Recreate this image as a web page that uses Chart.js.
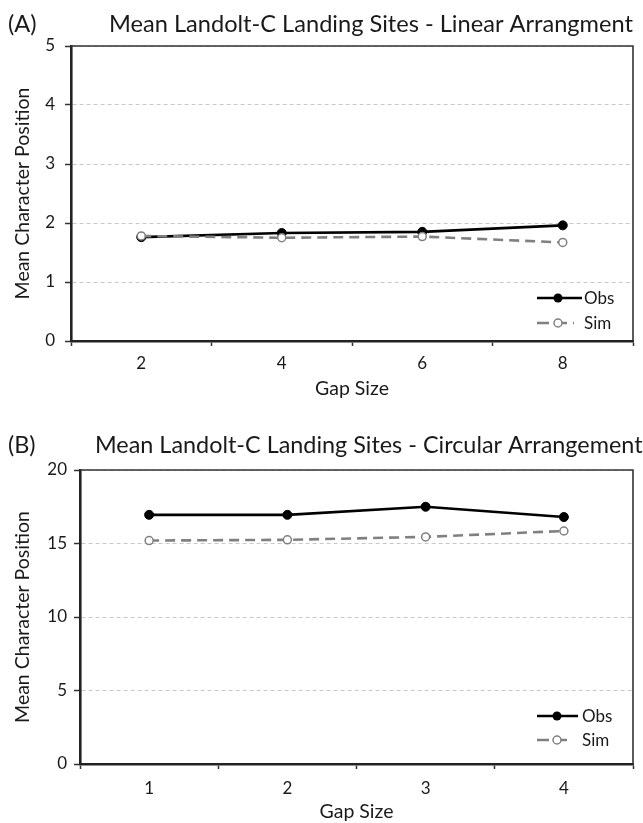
<!DOCTYPE html>
<html>
<head>
<meta charset="utf-8">
<script src="https://cdn.jsdelivr.net/npm/chart.js@4.4.1/dist/chart.umd.min.js"></script>
<style>
  html, body { margin: 0; padding: 0; background: #fff; }
  #wrap { position: relative; width: 643px; height: 823px; }
  canvas { position: absolute; left: 0; }
  #c1 { top: 0; }
  #c2 { top: 411px; }
</style>
</head>
<body>
<div id="wrap">
  <canvas id="c1" width="643" height="411"></canvas>
  <canvas id="c2" width="643" height="412"></canvas>
</div>
<script>
// Panel A: linear arrangement
const linearGaps = ['2', '4', '6', '8'];
const linearObs = [1.76, 1.83, 1.85, 1.96];
const linearSim = [1.78, 1.75, 1.77, 1.67];
const linearMax = 5;
const linearStep = 1;

// Panel B: circular arrangement
const circularGaps = ['1', '2', '3', '4'];
const circularObs = [16.95, 16.95, 17.5, 16.8];
const circularSim = [15.2, 15.25, 15.45, 15.85];
const circularMax = 20;
const circularStep = 5;

const seriesNames = ['Obs', 'Sim'];
const FONT = 'Lato, "Open Sans", sans-serif';
const INK = '#1a1a1a';
const SIM_GREY = '#808080';

// Titles, frame and the in-plot key for one panel
function panelDecor(p) {
  return {
    id: 'panelDecor',
    afterDraw(chart) {
      const { ctx, chartArea: a } = chart;
      ctx.save();
      // top and right edges of the plot frame
      ctx.strokeStyle = '#333';
      ctx.lineWidth = 1.6;
      ctx.setLineDash([]);
      ctx.beginPath();
      ctx.moveTo(a.left, a.top);
      ctx.lineTo(a.right, a.top);
      ctx.lineTo(a.right, a.bottom);
      ctx.stroke();

      // panel tag and heading
      ctx.fillStyle = INK;
      ctx.textBaseline = 'alphabetic';
      ctx.textAlign = 'left';
      ctx.font = p.titleSize + 'px ' + FONT;
      ctx.fillText(p.tag, 8, p.titleBase);
      ctx.fillText(p.title, p.titleX, p.titleBase);

      // key: Obs
      ctx.lineWidth = 2.6;
      ctx.strokeStyle = '#000';
      ctx.beginPath();
      ctx.moveTo(p.lx1, p.ly1);
      ctx.lineTo(p.lx2, p.ly1);
      ctx.stroke();
      ctx.fillStyle = '#000';
      ctx.beginPath();
      ctx.arc(p.mx, p.ly1, 4.5, 0, Math.PI * 2);
      ctx.fill();

      // key: Sim
      ctx.strokeStyle = SIM_GREY;
      ctx.setLineDash([12, 6]);
      ctx.beginPath();
      ctx.moveTo(p.lx1, p.ly2);
      ctx.lineTo(p.lx2 - 8, p.ly2);
      ctx.stroke();
      ctx.setLineDash([]);
      ctx.fillStyle = '#fff';
      ctx.lineWidth = 1.5;
      ctx.beginPath();
      ctx.arc(p.mx, p.ly2, 4, 0, Math.PI * 2);
      ctx.fill();
      ctx.stroke();

      ctx.fillStyle = INK;
      ctx.font = '17px ' + FONT;
      ctx.textBaseline = 'middle';
      ctx.fillText(seriesNames[0], p.tx, p.ly1 + 1);
      ctx.fillText(seriesNames[1], p.tx, p.ly2 + 1);
      ctx.restore();
    }
  };
}

function makePanel(canvasId, p) {
  return new Chart(document.getElementById(canvasId), {
    type: 'line',
    data: {
      labels: p.labels,
      datasets: [
        {
          label: seriesNames[1], data: p.sim, order: 0,
          borderColor: SIM_GREY, borderWidth: 2.6, borderDash: [10, 6],
          pointRadius: 4, pointBackgroundColor: '#fff', pointBorderColor: SIM_GREY,
          pointBorderWidth: 1.5, tension: 0, fill: false
        },
        {
          label: seriesNames[0], data: p.obs, order: 1,
          borderColor: '#000', borderWidth: 2.6,
          pointRadius: 4.5, pointBackgroundColor: '#000', pointBorderColor: '#000',
          pointBorderWidth: 1, tension: 0, fill: false
        }
      ]
    },
    options: {
      responsive: false,
      animation: false,
      devicePixelRatio: 1,
      layout: { padding: { left: 0, right: 10, top: p.top, bottom: 0 } },
      plugins: { legend: { display: false }, title: { display: false }, tooltip: { enabled: false } },
      scales: {
        x: {
          type: 'category',
          offset: true,
          grid: {
            display: true, offset: true, drawOnChartArea: false, drawTicks: true,
            tickLength: 5, tickColor: '#333', tickWidth: 1.5
          },
          border: { display: true, color: '#222', width: 2.6 },
          ticks: { color: INK, font: { family: FONT, size: 17 }, padding: p.xPad, maxRotation: 0, autoSkip: false },
          title: {
            display: true, text: 'Gap Size', color: INK,
            font: { family: FONT, size: 19.5 }, padding: { top: 0, bottom: p.xTitlePad }
          },
          afterFit(s) { s.height = p.xH; }
        },
        y: {
          min: 0, max: p.max,
          ticks: { stepSize: p.step, color: INK, font: { family: FONT, size: 17 }, padding: p.yPad },
          grid: {
            color: '#c8c8c8', lineWidth: 1, drawTicks: true, tickLength: 6,
            tickColor: '#333', tickWidth: 1.5, tickBorderDash: []
          },
          border: { display: true, color: '#222', width: 2.6, dash: [4, 3] },
          title: {
            display: true, text: 'Mean Character Position', color: INK,
            font: { family: FONT, size: 19.5 }, padding: { top: 11.3, bottom: 0 }
          },
          afterFit(s) { s.width = p.yW; }
        }
      }
    },
    plugins: [panelDecor(p)]
  });
}

makePanel('c1', {
  labels: linearGaps, obs: linearObs, sim: linearSim, max: linearMax, step: linearStep,
  top: 46, xH: 70, yW: 71, yPad: 10, xPad: 7, xTitlePad: 10.3,
  tag: '(A)', title: 'Mean Landolt-C Landing Sites - Linear Arrangment',
  titleSize: 23.6, titleX: 109, titleBase: 32,
  lx1: 537, lx2: 582, mx: 558, tx: 584, ly1: 298, ly2: 323
});

makePanel('c2', {
  labels: circularGaps, obs: circularObs, sim: circularSim, max: circularMax, step: circularStep,
  top: 59, xH: 59, yW: 80, yPad: 7, xPad: 9, xTitlePad: 0,
  tag: '(B)', title: 'Mean Landolt-C Landing Sites - Circular Arrangement',
  titleSize: 23.4, titleX: 95, titleBase: 42,
  lx1: 537, lx2: 578, mx: 557, tx: 582, ly1: 305, ly2: 329
});
</script>
</body>
</html>
